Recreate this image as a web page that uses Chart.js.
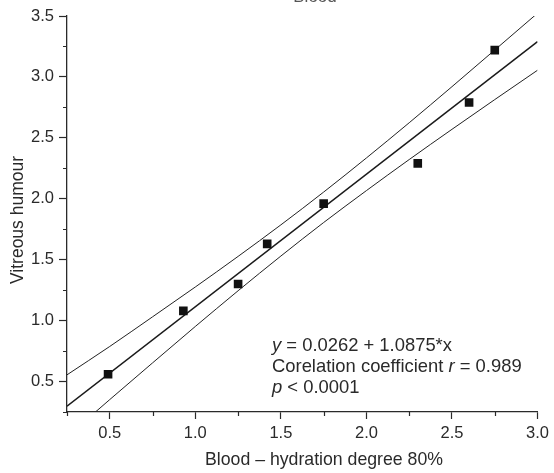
<!DOCTYPE html>
<html>
<head>
<meta charset="utf-8">
<script src="https://cdn.jsdelivr.net/npm/chart.js@4/dist/chart.umd.min.js"></script>
<style>
  html, body { margin: 0; padding: 0; background: #fff; }
  #wrap { width: 554px; height: 473px; }
</style>
</head>
<body>
<div id="wrap"><canvas id="c" width="554" height="473"></canvas></div>
<script>
// ---- data ----
const bloodX = [0.49, 0.93, 1.25, 1.42, 1.75, 2.30, 2.60, 2.75];
const vitreousY = [0.56, 1.08, 1.30, 1.63, 1.96, 2.29, 2.79, 3.22];

const fitX = [0.25, 3.0];
const fitY = [0.298, 3.289];

const bandX = [0.25, 0.5, 0.75, 1.0, 1.25, 1.5, 1.75, 2.0, 2.25, 2.5, 2.75, 3.0];
const upperBand = [0.555, 0.788, 1.031, 1.276, 1.527, 1.786, 2.055, 2.335, 2.624, 2.920, 3.221, 3.523];
const lowerBand = [0.048, 0.352, 0.653, 0.952, 1.245, 1.530, 1.805, 2.067, 2.322, 2.570, 2.814, 3.055];

const xMajorTicks = [0.5, 1.0, 1.5, 2.0, 2.5, 3.0];
const xMinorTicks = [0.25, 0.75, 1.25, 1.75, 2.25, 2.75];
const yMajorTicks = [0.5, 1.0, 1.5, 2.0, 2.5, 3.0, 3.5];
const yMinorTicks = [0.25, 0.75, 1.25, 1.75, 2.25, 2.75, 3.25];

const chartTitle = 'Blood';
const xTitle = 'Blood \u2013 hydration degree 80%';
const yTitle = 'Vitreous humour';
const statsLines = [
  [['y', true], [' = 0.0262 + 1.0875*x', false]],
  [['Corelation coefficient ', false], ['r', true], [' = 0.989', false]],
  [['p', true], [' < 0.0001', false]]
];

const toPts = (xs, ys) => xs.map((x, i) => ({ x: x, y: ys[i] }));

const FONT = '"Liberation Sans", Arial, Helvetica, sans-serif';
const INK = '#2a2a2a';

const extras = {
  id: 'extras',
  afterDraw(chart) {
    const ctx = chart.ctx;
    const xs = chart.scales.x, ys = chart.scales.y;
    const area = chart.chartArea;
    ctx.save();
    // minor ticks
    ctx.strokeStyle = INK;
    ctx.lineWidth = 1.2;
    ctx.beginPath();
    xMinorTicks.forEach(v => {
      const px = Math.round(xs.getPixelForValue(v)) + 0.5;
      ctx.moveTo(px, area.bottom); ctx.lineTo(px, area.bottom + 4);
    });
    yMinorTicks.forEach(v => {
      const py = Math.round(ys.getPixelForValue(v)) + 0.5;
      ctx.moveTo(area.left, py); ctx.lineTo(area.left - 4, py);
    });
    ctx.stroke();

    // partially visible top title
    ctx.fillStyle = '#555';
    ctx.font = '17px ' + FONT;
    ctx.textAlign = 'center';
    ctx.textBaseline = 'alphabetic';
    ctx.fillText(chartTitle, 315, 1.5);

    ctx.fillStyle = INK;
    // x axis title
    ctx.font = '17.7px ' + FONT;
    ctx.textAlign = 'center';
    ctx.textBaseline = 'alphabetic';
    ctx.fillText(xTitle, 324, 465);

    // y axis title
    ctx.save();
    ctx.translate(23, 220);
    ctx.rotate(-Math.PI / 2);
    ctx.font = '17.5px ' + FONT;
    ctx.fillText(yTitle, 0, 0);
    ctx.restore();

    // stats text
    ctx.textAlign = 'left';
    ctx.textBaseline = 'alphabetic';
    const x0 = 272, y0 = 351, lh = 21;
    statsLines.forEach((parts, i) => {
      let x = x0;
      parts.forEach(([t, it]) => {
        ctx.font = (it ? 'italic ' : '') + '18.4px ' + FONT;
        ctx.fillText(t, x, y0 + i * lh);
        x += ctx.measureText(t).width;
      });
    });
    ctx.restore();
  }
};

new Chart(document.getElementById('c'), {
  type: 'scatter',
  data: {
    datasets: [
      {
        label: 'Measurements',
        data: toPts(bloodX, vitreousY),
        pointStyle: 'rect',
        pointRadius: 6.1,
        pointHoverRadius: 6.1,
        backgroundColor: '#111',
        borderColor: '#111',
        borderWidth: 0,
        order: 0
      },
      {
        label: 'Regression',
        data: toPts(fitX, fitY),
        showLine: true,
        pointRadius: 0,
        borderColor: '#1a1a1a',
        borderWidth: 1.5,
        order: 1
      },
      {
        label: 'Upper 95% CI',
        data: toPts(bandX, upperBand),
        showLine: true,
        pointRadius: 0,
        borderColor: '#222',
        borderWidth: 1,
        cubicInterpolationMode: 'monotone',
        order: 2
      },
      {
        label: 'Lower 95% CI',
        data: toPts(bandX, lowerBand),
        showLine: true,
        pointRadius: 0,
        borderColor: '#222',
        borderWidth: 1,
        cubicInterpolationMode: 'monotone',
        order: 2
      }
    ]
  },
  options: {
    responsive: false,
    animation: false,
    devicePixelRatio: 1,
    layout: { padding: { left: 0, right: 14, top: 16, bottom: 0 } },
    plugins: {
      legend: { display: false },
      tooltip: { enabled: false },
      title: { display: false }
    },
    scales: {
      x: {
        type: 'linear',
        min: 0.25,
        max: 3.0,
        afterBuildTicks: s => { s.ticks = xMajorTicks.map(v => ({ value: v })); },
        afterFit: s => { s.height = 61; },
        ticks: {
          callback: v => Number(v).toFixed(1),
          font: { size: 16.5, family: FONT },
          color: INK,
          padding: 5,
          maxRotation: 0,
          autoSkip: false
        },
        grid: { drawOnChartArea: false, drawTicks: true, tickLength: 7, tickColor: INK, tickWidth: 1.2 },
        border: { display: true, color: INK, width: 1.3 }
      },
      y: {
        type: 'linear',
        min: 0.25,
        max: 3.5,
        afterBuildTicks: s => { s.ticks = yMajorTicks.map(v => ({ value: v })); },
        afterFit: s => { s.width = 67; },
        ticks: {
          callback: v => Number(v).toFixed(1),
          font: { size: 16.5, family: FONT },
          color: INK,
          padding: 5,
          autoSkip: false
        },
        grid: { drawOnChartArea: false, drawTicks: true, tickLength: 8, tickColor: INK, tickWidth: 1.2 },
        border: { display: true, color: INK, width: 1.3 }
      }
    }
  },
  plugins: [extras]
});
</script>
</body>
</html>
